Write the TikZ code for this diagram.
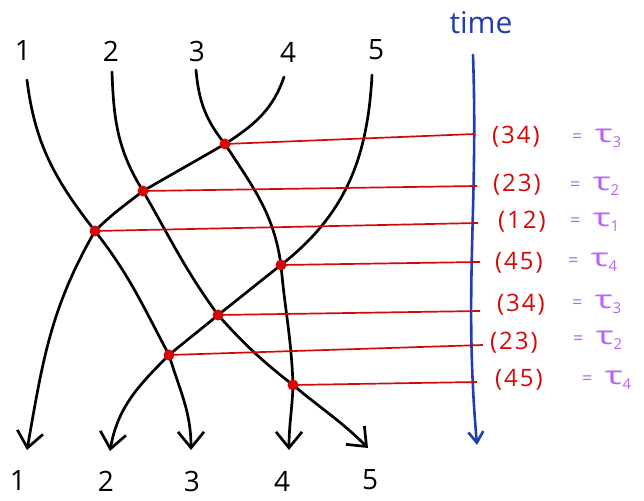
\documentclass[tikz,border=0pt]{standalone}
\usepackage{fontspec}
\usepackage{graphicx}
\setmainfont{Open Sans}
\usetikzlibrary{arrows.meta}
\definecolor{dred}{RGB}{212,8,8}
\definecolor{tblue}{RGB}{35,60,175}
\definecolor{lav}{RGB}{185,100,245}
\newcommand\taulab[1]{{\fontsize{18}{18}\selectfont=}\hspace{12pt}\scalebox{1.6}[1.05]{τ}\raisebox{-5pt}{\fontsize{15}{15}\selectfont #1}}
\begin{document}
\begin{tikzpicture}[x=1pt,y=1pt,
  strand/.style={line width=2.7pt, line cap=round, -{Straight Barb[length=16pt,width=26pt]}},
  dot/.style={circle, fill=dred, inner sep=0pt, minimum size=11pt},
  redline/.style={dred, line width=1.7pt},
  axisline/.style={tblue, line width=2.6pt, line cap=round, -{Straight Barb[length=11pt,width=15pt]}},
  numlbl/.style={font=\fontsize{28}{30}\selectfont, inner sep=0pt},
  perm/.style={dred, font=\fontsize{24}{26}\selectfont\addfontfeatures{LetterSpace=8}, anchor=west, inner sep=0pt},
  tau/.style={lav, font=\fontsize{24}{26}\selectfont, anchor=west, inner sep=0pt}]
\useasboundingbox (0,0) rectangle (644,500);
% strand end points
\coordinate (t1) at (27,420);
\coordinate (t2) at (112,428);
\coordinate (t3) at (196,430);
\coordinate (t4) at (284,423);
\coordinate (t5) at (372,425);
\coordinate (b1) at (27,50);
\coordinate (b2) at (110,49);
\coordinate (b3) at (191,50);
\coordinate (b4) at (289,50);
\coordinate (b5) at (368,52);
% crossings
\coordinate (cA) at (225,356);
\coordinate (cB) at (143,309);
\coordinate (cC) at (95,269);
\coordinate (cD) at (281,235);
\coordinate (cE) at (218,185);
\coordinate (cF) at (169,145);
\coordinate (cG) at (293,115);
% axis points
\coordinate (rA) at (475,366);
\coordinate (rB) at (477,314);
\coordinate (rC) at (478,277);
\coordinate (rD) at (480,238);
\coordinate (rE) at (480,189);
\coordinate (rF) at (483,155);
\coordinate (rG) at (477,118);
\coordinate (ax1) at (473,445);
\coordinate (ax2) at (477,55);
% labels
\node[numlbl] (n1) at (23,449) {1};
\node[numlbl] (n2) at (111,449) {2};
\node[numlbl] (n3) at (197,448) {3};
\node[numlbl] (n4) at (288,448) {4};
\node[numlbl] (n5) at (376,450) {5};
\node[numlbl] (m1) at (18,19) {1};
\node[numlbl] (m2) at (106,19) {2};
\node[numlbl] (m3) at (192,19) {3};
\node[numlbl] (m4) at (282,19) {4};
\node[numlbl] (m5) at (370,20) {5};
\node[tblue, font=\fontsize{30}{32}\selectfont, inner sep=0pt] (time) at (481,477) {time};
% strands
\draw[strand] (t1) to[out=-83,in=128] (cC) to[out=-52,in=118] (cF) to[out=-73,in=90] (b3);
\draw[strand] (t4) to[out=-109,in=33] (cA) to[out=-150,in=30] (cB) to[out=-142,in=45] (cC) to[out=-120,in=80] (b1);
\draw[strand] (t2) to[out=-88,in=122] (cB) to[out=-60,in=126] (cE) to[out=-48,in=142] (cG) to[out=-40,in=135] (b5);
\draw[strand] (t3) to[out=-85,in=129] (cA) to[out=-57,in=98] (cD) to[out=-85,in=92] (cG) to[out=-92,in=90] (b4);
\draw[strand] (t5) to[out=-93,in=38] (cD) to[out=-142,in=38] (cE) to[out=-140,in=40] (cF) to[out=-135,in=80] (b2);
% time axis
\draw[axisline] (ax1) to[out=-88,in=95] (ax2);
% red lines
\draw[redline] (cA) -- (rA);
\draw[redline] (cB) -- (rB);
\draw[redline] (cC) -- (rC);
\draw[redline] (cD) -- (rD);
\draw[redline] (cE) -- (rE);
\draw[redline] (cF) -- (rF);
\draw[redline] (cG) -- (rG);
% dots
\node[dot] (A) at (cA) {};
\node[dot] (B) at (cB) {};
\node[dot] (C) at (cC) {};
\node[dot] (D) at (cD) {};
\node[dot] (E) at (cE) {};
\node[dot] (F) at (cF) {};
\node[dot] (G) at (cG) {};
% permutation labels
\node[perm] (pA) at (492,363) {(34)};
\node[perm] (pB) at (493,315) {(23)};
\node[perm] (pC) at (498,278) {(12)};
\node[perm] (pD) at (495,237) {(45)};
\node[perm] (pE) at (497,195) {(34)};
\node[perm] (pF) at (490,157) {(23)};
\node[perm] (pG) at (495,120) {(45)};
\node[tau] (qA) at (572,362) {\taulab{3}};
\node[tau] (qB) at (570,314) {\taulab{2}};
\node[tau] (qC) at (570,278) {\taulab{1}};
\node[tau] (qD) at (568,238) {\taulab{4}};
\node[tau] (qE) at (572,196) {\taulab{3}};
\node[tau] (qF) at (573,160) {\taulab{2}};
\node[tau] (qG) at (582,120) {\taulab{4}};
\end{tikzpicture}
\end{document}
